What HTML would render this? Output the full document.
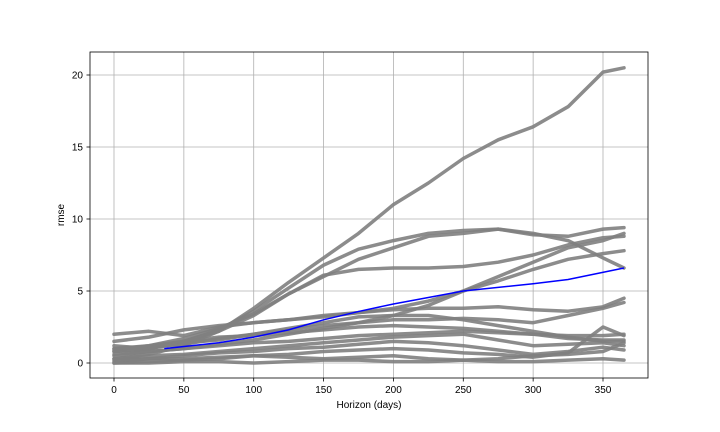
<!DOCTYPE html>
<html><head><meta charset="utf-8"><style>
body{margin:0;background:#fff;}
svg{display:block;font-family:"Liberation Sans","DejaVu Sans",sans-serif;}
</style></head><body>
<svg id="chart" width="720" height="432">
<rect x="90" y="52" width="558" height="326" fill="#fff" stroke="none"/>
<g id="grid"></g>
<g id="series"></g>
<g id="mean"></g>
<rect x="90" y="52" width="558" height="326" fill="none" stroke="#000" stroke-width="0.8"/>
<g id="axes"></g>
<text x="369" y="408" font-size="10" text-anchor="middle">Horizon (days)</text>
<text x="64" y="215" font-size="10" text-anchor="middle" transform="rotate(-90 64 215)">rmse</text>
</svg>
<script>
const xTicks=[0,50,100,150,200,250,300,350];
const yTicks=[0,5,10,15,20];
const days=[0,25,50,75,100,125,150,175,200,225,250,275,300,325,350,365];
const s1=[0.3,0.6,1.2,2.2,3.8,5.6,7.3,9.0,11.0,12.5,14.2,15.5,16.4,17.8,20.2,20.5];
const s2=[0.8,1.0,1.5,2.3,3.6,5.2,6.8,7.9,8.5,9.0,9.2,9.3,9.0,8.5,7.3,6.6];
const s3=[0.9,1.2,1.7,2.4,3.4,4.8,6.0,7.2,8.0,8.8,9.0,9.3,8.9,8.8,9.3,9.4];
const s4=[0.8,1.0,1.5,2.2,3.3,4.8,6.1,6.5,6.6,6.6,6.7,7.0,7.5,8.2,8.7,8.8];
const s5=[0.5,0.8,1.0,1.3,1.6,2.0,2.4,2.8,3.3,4.0,5.0,6.0,7.0,8.0,8.5,9.0];
const s6=[1.5,1.8,2.3,2.6,2.8,3.0,3.2,3.5,3.8,4.3,5.0,5.7,6.5,7.2,7.6,7.8];
const s7=[2.0,2.2,1.9,2.5,2.8,3.0,3.3,3.5,3.7,3.8,3.8,3.9,3.7,3.6,3.9,4.5];
const s8=[1.2,1.0,1.4,1.6,2.0,2.3,2.6,2.8,3.0,3.0,3.1,3.0,2.8,3.3,3.8,4.2];
const s9=[1.0,1.2,1.5,1.8,1.9,2.1,2.3,2.5,2.6,2.5,2.4,2.2,2.0,1.9,1.9,2.0];
const s10=[0.6,0.8,1.0,1.2,1.4,1.5,1.7,1.9,2.0,2.1,2.2,2.1,2.0,1.7,1.6,1.6];
const s11=[0.3,0.5,0.6,0.8,1.0,1.2,1.4,1.6,1.8,1.9,2.0,1.6,1.2,1.3,1.4,1.2];
const s12=[0.1,0.3,0.5,0.7,0.8,1.0,1.1,1.3,1.5,1.4,1.2,0.9,0.6,0.8,1.1,0.9];
const s13=[0.0,0.1,0.2,0.3,0.5,0.6,0.8,0.9,1.0,0.9,0.7,0.6,0.4,0.7,2.5,1.9];
const s14=[0.2,0.3,0.3,0.4,0.5,0.4,0.3,0.4,0.5,0.3,0.2,0.3,0.5,0.6,0.8,1.4];
const s15=[0.0,0.0,0.1,0.1,0.0,0.1,0.2,0.2,0.1,0.1,0.2,0.1,0.1,0.2,0.3,0.2];
const s16=[1.0,1.1,1.3,1.7,2.0,2.4,2.8,3.2,3.3,3.3,3.0,2.6,2.2,1.8,1.5,1.5];
const allSeries=[s1,s2,s3,s4,s5,s6,s7,s8,s9,s10,s11,s12,s13,s14,s15,s16];
const meanDays=[36,75,100,125,150,176,200,250,300,325,365];
const meanVals=[1.0,1.4,1.8,2.3,3.0,3.6,4.1,5.0,5.5,5.8,6.6];

const NS='http://www.w3.org/2000/svg';
function xs(d){return 114+d*(603-114)/350;}
function ys(v){return 363-v*(363-75)/20;}
function mk(tag,attrs,parent){const e=document.createElementNS(NS,tag);for(const k in attrs)e.setAttribute(k,attrs[k]);parent.appendChild(e);return e;}
const grid=document.getElementById('grid'),axes=document.getElementById('axes');
xTicks.forEach(t=>{
  const l=mk('line',{x1:xs(t),x2:xs(t),y1:52,y2:378,stroke:'#b0b0b0','stroke-width':0.8},grid);
  
  
  const tk=mk('line',{x1:xs(t),x2:xs(t),y1:378,y2:381.5,stroke:'#000','stroke-width':0.8},axes);
  
  
  const tx=mk('text',{x:xs(t),y:393,'font-size':10,'text-anchor':'middle'},axes);
  tx.textContent=t;
  
  
});
yTicks.forEach(t=>{
  const l=mk('line',{x1:90,x2:648,y1:ys(t),y2:ys(t),stroke:'#b0b0b0','stroke-width':0.8},grid);
  
  
  const tk=mk('line',{x1:86.5,x2:90,y1:ys(t),y2:ys(t),stroke:'#000','stroke-width':0.8},axes);
  
  
  const tx=mk('text',{x:83,y:ys(t)+3.5,'font-size':10,'text-anchor':'end'},axes);
  tx.textContent=t;
  
  
});
const sg=document.getElementById('series');
allSeries.forEach((s,i)=>{
  const pts=s.map((v,j)=>xs(days[j]).toFixed(1)+','+ys(v).toFixed(1)).join(' ');
  const p=mk('polyline',{points:pts,fill:'none',stroke:'#808080','stroke-width':3.5,'stroke-linejoin':'round','stroke-linecap':'round',opacity:0.9},sg);
  
  
});
const mp=mk('polyline',{points:meanVals.map((v,j)=>xs(meanDays[j]).toFixed(1)+','+ys(v).toFixed(1)).join(' '),fill:'none',stroke:'#0000ff','stroke-width':1.5},document.getElementById('mean'));


</script>
</body></html>
